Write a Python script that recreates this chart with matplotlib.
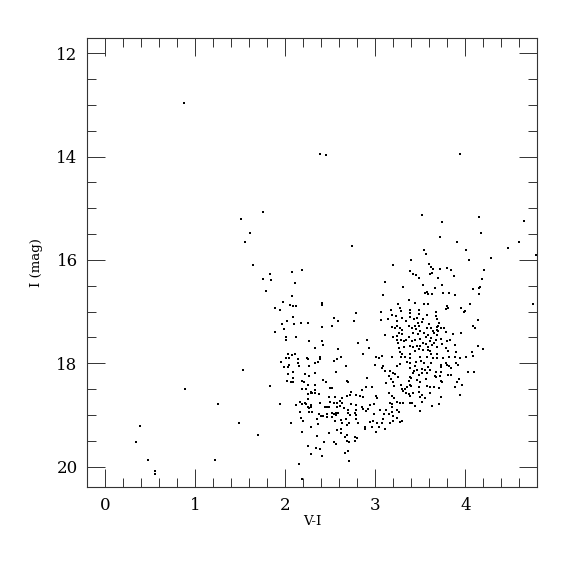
import numpy as np
import matplotlib
matplotlib.use("Agg")
import matplotlib.pyplot as plt
from matplotlib.ticker import MultipleLocator

# (V-I, I) pairs, grouped by region of the diagram
sparse_stars = [
    (0.87, 12.97), (1.51, 15.21), (2.38, 13.94), (2.45, 13.97), (1.75, 15.07), (1.61, 15.47),
    (3.94, 13.94), (3.52, 15.13), (3.74, 15.27), (4.15, 15.17), (4.65, 15.25), (3.72, 15.55),
    (4.17, 15.48), (0.88, 18.50), (1.25, 18.79), (0.38, 19.21), (1.49, 19.16), (0.34, 19.52),
    (0.47, 19.87), (1.22, 19.88), (0.55, 20.09), (0.55, 20.14), (2.19, 20.23), (4.60, 15.66),
    (4.47, 15.76), (4.78, 15.90), (4.29, 15.97), (4.21, 16.19), (4.18, 16.37), (4.16, 16.53),
    (4.75, 16.85), (4.20, 17.73),
]

blue_upper = [
    (1.55, 15.66), (2.74, 15.72), (1.64, 16.09), (1.83, 16.27), (2.07, 16.23), (2.19, 16.19),
    (1.75, 16.36), (1.84, 16.39), (2.11, 16.45), (1.79, 16.60), (2.07, 16.69), (1.97, 16.82),
    (2.41, 16.83), (2.41, 16.87), (1.88, 16.93), (1.94, 16.96), (2.05, 16.87), (2.08, 16.90),
    (2.12, 16.90), (2.79, 17.03), (2.08, 17.10), (2.54, 17.12), (2.59, 17.19), (2.76, 17.18),
    (2.02, 17.18), (1.96, 17.24), (2.10, 17.24), (2.17, 17.22), (2.25, 17.21), (2.52, 17.28),
    (2.41, 17.30), (1.98, 17.34), (1.89, 17.39), (2.01, 17.50), (2.01, 17.55), (2.12, 17.50),
    (2.26, 17.56), (2.41, 17.56), (2.42, 17.65), (2.81, 17.60), (2.33, 17.70), (2.58, 17.73),
    (2.03, 17.82), (2.07, 17.83), (2.11, 17.81), (2.01, 17.90), (2.04, 17.89), (2.14, 17.92),
    (2.24, 17.89), (2.25, 17.91), (2.38, 17.87), (2.38, 17.91), (2.57, 17.91), (2.62, 17.88),
]

red_upper = [
    (3.91, 15.65), (3.54, 15.81), (3.56, 15.89), (4.01, 15.81), (3.40, 16.00), (4.04, 16.00),
    (3.20, 16.10), (3.60, 16.08), (3.62, 16.13), (3.64, 16.17), (3.38, 16.21), (3.63, 16.25),
    (3.61, 16.27), (3.80, 16.16), (3.84, 16.19), (3.72, 16.17), (3.42, 16.27), (3.45, 16.30),
    (3.48, 16.35), (3.87, 16.31), (3.70, 16.34), (3.11, 16.43), (3.31, 16.52), (3.53, 16.48),
    (3.74, 16.48), (3.66, 16.55), (3.55, 16.63), (3.57, 16.61), (3.59, 16.65), (3.63, 16.65),
    (3.75, 16.63), (3.82, 16.63), (3.89, 16.67), (4.09, 16.56), (4.15, 16.54), (4.15, 16.65),
    (3.08, 16.67), (4.05, 16.85), (3.37, 16.78), (3.25, 16.86), (3.44, 16.84), (3.54, 16.85),
    (3.59, 16.85), (3.80, 16.90), (3.81, 16.93), (3.79, 16.94), (3.95, 16.93), (4.00, 16.99),
    (3.98, 17.00), (3.27, 16.92), (3.29, 16.98), (3.17, 16.97), (3.39, 16.97), (3.49, 16.97),
    (3.67, 17.01), (3.19, 17.06), (3.23, 17.09), (3.39, 17.03), (3.48, 17.05), (3.06, 17.00),
    (3.14, 17.14), (3.38, 17.10), (3.43, 17.14), (3.46, 17.12), (3.53, 17.14), (3.57, 17.06),
    (3.67, 17.08), (3.68, 17.15), (4.14, 17.16), (3.06, 17.17), (3.34, 17.19), (3.24, 17.19),
    (3.30, 17.12), (3.52, 17.20), (3.47, 17.21), (3.60, 17.23), (3.71, 17.21), (3.24, 17.28),
    (3.18, 17.30), (3.22, 17.31), (3.27, 17.31), (3.30, 17.36), (3.37, 17.28), (3.41, 17.31),
    (3.44, 17.28), (3.48, 17.28), (3.57, 17.31), (3.62, 17.31), (3.68, 17.30), (3.70, 17.28),
    (3.73, 17.31), (3.76, 17.31), (4.09, 17.28), (4.11, 17.32), (3.45, 17.34), (3.50, 17.37),
    (3.64, 17.37), (3.68, 17.35), (3.70, 17.37), (3.65, 17.42), (3.69, 17.45), (3.26, 17.41),
    (3.30, 17.43), (3.42, 17.42), (3.47, 17.43), (3.54, 17.41), (3.59, 17.45), (3.78, 17.39),
    (3.95, 17.41), (3.86, 17.44), (3.11, 17.46), (3.20, 17.50), (3.24, 17.48), (3.37, 17.50),
    (3.44, 17.54), (3.50, 17.52), (3.56, 17.50), (3.62, 17.51), (3.73, 17.52), (3.67, 17.55),
    (2.91, 17.54), (3.24, 17.55), (3.29, 17.55), (3.32, 17.57), (3.34, 17.55), (3.41, 17.57),
    (3.25, 17.61), (3.53, 17.60), (3.56, 17.63), (3.61, 17.57), (3.65, 17.61), (3.80, 17.56),
    (3.83, 17.55), (3.74, 17.63), (3.89, 17.65), (4.14, 17.66), (2.93, 17.70), (3.26, 17.70),
    (3.32, 17.69), (3.38, 17.66), (3.42, 17.69), (3.46, 17.66), (3.50, 17.67), (3.58, 17.68),
    (3.63, 17.65), (3.68, 17.68), (3.78, 17.71), (3.53, 17.74), (3.58, 17.74), (3.61, 17.76),
    (3.48, 17.72), (3.27, 17.78), (3.30, 17.81), (3.39, 17.81), (3.44, 17.77), (3.62, 17.81),
    (3.69, 17.82), (3.81, 17.77), (3.90, 17.78), (4.07, 17.79), (2.86, 17.82), (3.01, 17.88),
    (3.04, 17.90), (3.07, 17.86), (3.19, 17.87), (3.28, 17.87), (3.33, 17.87), (3.39, 17.90),
    (3.50, 17.88), (3.57, 17.88), (3.64, 17.89), (3.69, 17.90), (3.75, 17.89), (3.82, 17.87),
    (3.88, 17.88), (3.94, 17.89), (4.01, 17.88), (4.09, 17.86),
]

blue_lower = [
    (1.95, 17.97), (2.04, 18.03), (1.98, 18.08), (2.03, 18.08), (2.14, 17.99), (2.15, 18.05),
    (2.26, 18.05), (2.33, 18.00), (2.36, 17.97), (2.54, 17.95), (2.67, 18.05), (1.53, 18.13),
    (2.09, 18.17), (2.03, 18.21), (2.22, 18.21), (2.26, 18.24), (2.33, 18.19), (2.56, 18.17),
    (2.08, 18.28), (2.08, 18.37), (2.02, 18.35), (2.06, 18.36), (2.18, 18.34), (2.21, 18.37),
    (2.42, 18.33), (2.45, 18.37), (2.68, 18.34), (2.70, 18.37), (1.83, 18.43), (2.25, 18.42),
    (2.33, 18.41), (2.50, 18.47), (2.52, 18.47), (2.19, 18.50), (2.23, 18.50), (2.28, 18.56),
    (2.30, 18.57), (2.33, 18.52), (2.25, 18.60), (2.28, 18.58), (2.33, 18.58), (2.37, 18.60),
    (2.73, 18.56), (2.72, 18.61), (2.69, 18.63), (2.78, 18.61), (2.83, 18.63), (2.25, 18.70),
    (2.48, 18.66), (2.55, 18.65), (2.63, 18.68), (2.61, 18.72), (2.16, 18.74), (2.22, 18.76),
    (2.39, 18.76), (2.50, 18.74), (2.54, 18.76), (2.57, 18.76), (2.63, 18.76), (1.94, 18.78),
    (2.12, 18.81), (2.18, 18.79), (2.23, 18.78), (2.28, 18.80), (2.73, 18.79), (2.78, 18.81),
    (2.25, 18.85), (2.26, 18.86), (2.29, 18.85), (2.44, 18.84), (2.46, 18.85), (2.49, 18.85),
    (2.57, 18.84), (2.61, 18.82), (2.65, 18.87), (2.70, 18.90), (2.79, 18.90), (2.77, 18.97),
    (2.16, 18.94), (2.26, 18.94), (2.30, 18.94), (2.37, 18.98), (2.40, 19.02), (2.42, 19.02),
    (2.46, 18.98), (2.52, 18.96), (2.56, 18.96), (2.59, 18.97), (2.56, 19.01), (2.54, 18.98),
    (2.52, 19.03), (2.46, 19.03), (2.35, 19.08), (2.70, 18.97), (2.72, 19.01), (2.78, 19.07),
    (2.79, 19.00), (2.17, 19.06), (2.20, 19.12), (2.36, 19.18), (2.55, 19.12), (2.62, 19.10),
    (2.63, 19.15), (2.67, 19.07), (2.68, 19.19), (2.71, 19.16), (2.81, 19.15), (2.06, 19.16),
    (2.29, 19.23), (2.57, 19.29), (2.62, 19.28), (2.49, 19.34), (2.62, 19.35), (2.66, 19.43),
    (2.69, 19.39), (2.77, 19.42), (2.80, 19.44), (2.19, 19.33), (1.70, 19.39), (2.35, 19.41),
    (2.43, 19.52), (2.54, 19.52), (2.56, 19.57), (2.68, 19.51), (2.71, 19.52), (2.77, 19.50),
    (2.25, 19.60), (2.34, 19.64), (2.38, 19.65), (2.70, 19.70), (2.66, 19.73), (2.28, 19.76),
    (2.41, 19.79), (2.71, 19.89), (2.15, 19.95),
]

red_lower = [
    (3.00, 18.03), (3.08, 18.05), (3.07, 18.09), (3.24, 18.05), (3.27, 18.02), (3.35, 17.97),
    (3.38, 18.00), (3.39, 18.09), (3.45, 17.97), (3.44, 18.06), (3.51, 17.96), (3.54, 17.99),
    (3.59, 18.08), (3.62, 17.99), (3.73, 18.03), (3.73, 18.08), (3.78, 17.99), (3.80, 18.03),
    (3.82, 18.06), (3.90, 17.99), (3.92, 18.03), (3.84, 18.10), (3.61, 18.13), (3.67, 18.17),
    (3.73, 18.17), (3.81, 18.22), (3.84, 18.22), (4.03, 18.17), (4.10, 18.17), (3.11, 18.15),
    (3.16, 18.15), (3.20, 18.18), (3.22, 18.21), (3.43, 18.14), (3.46, 18.13), (3.52, 18.11),
    (3.55, 18.13), (3.42, 18.19), (3.49, 18.23), (3.52, 18.18), (3.57, 18.19), (3.66, 18.25),
    (3.72, 18.25), (2.91, 18.29), (3.15, 18.25), (3.17, 18.30), (3.25, 18.27), (3.39, 18.26),
    (3.40, 18.29), (3.37, 18.34), (3.46, 18.32), (3.50, 18.36), (3.56, 18.31), (3.67, 18.27),
    (3.73, 18.34), (3.74, 18.37), (3.93, 18.30), (3.91, 18.36), (3.96, 18.41), (3.88, 18.45),
    (3.20, 18.37), (3.12, 18.39), (3.21, 18.43), (3.28, 18.41), (3.38, 18.41), (3.40, 18.44),
    (3.35, 18.45), (3.49, 18.46), (3.57, 18.44), (3.61, 18.46), (3.65, 18.46), (3.71, 18.48),
    (2.85, 18.52), (2.96, 18.46), (2.90, 18.45), (3.30, 18.50), (3.33, 18.49), (3.34, 18.57),
    (3.31, 18.54), (3.37, 18.59), (3.39, 18.63), (3.42, 18.57), (3.48, 18.56), (3.50, 18.66),
    (3.52, 18.62), (3.55, 18.68), (3.61, 18.58), (3.73, 18.65), (3.94, 18.61), (2.86, 18.65),
    (3.01, 18.63), (3.02, 18.67), (3.15, 18.58), (3.19, 18.63), (3.21, 18.68), (3.24, 18.74),
    (3.16, 18.76), (3.19, 18.79), (3.27, 18.76), (3.31, 18.77), (3.38, 18.77), (3.41, 18.77),
    (3.44, 18.82), (3.52, 18.74), (3.63, 18.83), (3.71, 18.79), (2.85, 18.84), (2.94, 18.81),
    (2.98, 18.78), (2.92, 18.89), (2.90, 18.92), (2.86, 18.89), (3.05, 18.90), (3.12, 18.90),
    (3.18, 18.84), (3.19, 18.94), (3.24, 18.90), (3.26, 18.94), (3.50, 18.92), (3.15, 18.99),
    (3.20, 19.02), (3.24, 19.05), (3.27, 19.14), (3.30, 19.12), (3.10, 18.98), (3.09, 19.07),
    (3.07, 19.16), (2.98, 18.98), (2.97, 19.11), (2.94, 19.13), (3.02, 19.15), (3.04, 19.23),
    (2.96, 19.23), (2.89, 19.23), (2.88, 19.28), (3.01, 19.33), (3.11, 19.28), (3.16, 19.15),
    (3.20, 19.12),
]

groups = [sparse_stars, blue_upper, red_upper, blue_lower, red_lower]
stars = np.array([p for g in groups for p in g])
v_i = stars[:, 0]
i_mag = stars[:, 1]

plt.rcParams['font.family'] = ['DejaVu Serif']

fig = plt.figure(figsize=(5.75, 5.75), dpi=100)
ax = fig.add_axes([0.152, 0.1525, 0.7826, 0.7817])

ax.plot(v_i, i_mag, 's', color='black', markersize=2.0, markeredgewidth=0)

ax.set_xlim(-0.2, 4.8)
ax.set_ylim(20.4, 11.7)
ax.xaxis.set_major_locator(MultipleLocator(1))
ax.xaxis.set_minor_locator(MultipleLocator(0.2))
ax.yaxis.set_major_locator(MultipleLocator(2))
ax.yaxis.set_minor_locator(MultipleLocator(0.5))

ax.tick_params(which='both', direction='in', top=True, right=True, width=0.7, colors='#333333',
               labelcolor='black', labelsize=12)
ax.tick_params(which='major', length=13, pad=7)
ax.tick_params(which='minor', length=6.5)
for s in ax.spines.values():
    s.set_linewidth(0.8)
    s.set_color('#333333')

ax.set_xlabel('V-I', fontsize=9.5, labelpad=1)
ax.set_ylabel('I (mag)', fontsize=9.5, labelpad=10)

fig.savefig('out.png', dpi=100)
